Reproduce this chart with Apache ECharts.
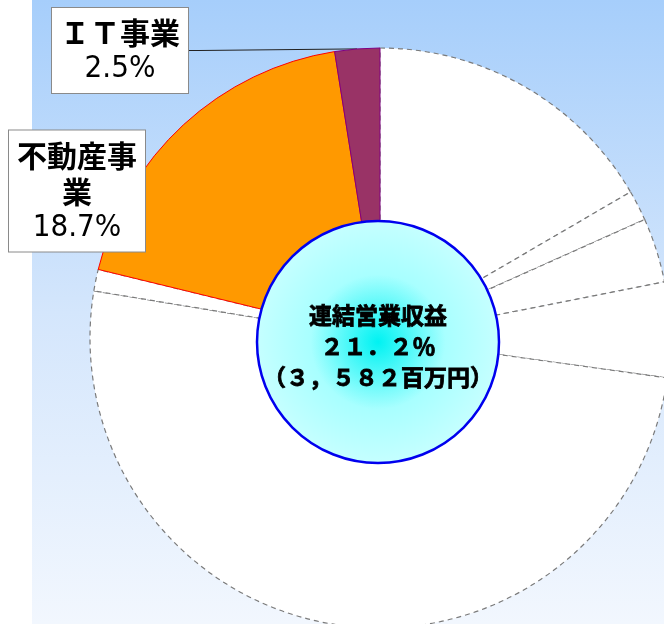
<!DOCTYPE html>
<html>
<head>
<meta charset="utf-8">
<script src="https://cdn.jsdelivr.net/npm/echarts@6/dist/echarts.min.js"></script>
<style>
  html, body { margin: 0; padding: 0; background: #ffffff; }
  #chart { width: 664px; height: 624px; }
</style>
</head>
<body>
<div id="chart"></div>
<script>
// ---- data ----
var segmentNames = ['その他1', 'その他2', 'その他3', 'その他4', 'その他5', 'その他6', '不動産事業', 'ＩＴ事業'];
var segmentValues = [16.6, 1.7, 3.6, 5.3, 50.4, 1.2, 18.7, 2.5];
var labelledSegments = ['不動産事業', 'ＩＴ事業'];
var centerTitle = '連結営業収益';
var centerShare = 21.2;        // %
var centerAmount = 3582;       // 百万円

// ---- helpers ----
function toFullWidth(s) {
  return String(s).replace(/[0-9.,]/g, function (c) {
    if (c === '.') return '．';
    if (c === ',') return '，';
    return String.fromCharCode(c.charCodeAt(0) + 0xFEE0);
  });
}
function withComma(n) { return String(n).replace(/\B(?=(\d{3})+(?!\d))/g, ','); }
function chunk(s, n) {
  var out = [];
  for (var i = 0; i < s.length; i += n) out.push(s.slice(i, i + n));
  return out;
}

var sliceStyles = {
  '不動産事業': { color: '#ff9900', borderColor: '#ff0000', borderWidth: 1, borderType: 'solid' },
  'ＩＴ事業': { color: '#993366', borderColor: '#800080', borderWidth: 1, borderType: 'solid' }
};
var labelPos = {
  '不動産事業': [77, 191],
  'ＩＴ事業': [120, 50.5]
};

var pieData = segmentNames.map(function (n, i) {
  var labelled = labelledSegments.indexOf(n) >= 0;
  return {
    name: n,
    value: segmentValues[i],
    itemStyle: sliceStyles[n] || { color: '#ffffff', borderColor: '#7a7a7a', borderWidth: 1.2, borderType: [5, 4] },
    label: { show: labelled },
    labelLine: { show: n === 'ＩＴ事業' }
  };
});

var centerText = '{t|' + centerTitle + '}\n{s|' + toFullWidth(centerShare) + '％}\n{a|（' +
  toFullWidth(withComma(centerAmount)) + '百万円）}';
var centerFont = { fontFamily: 'Noto Sans CJK JP', fontWeight: 'bold', fontSize: 23, lineHeight: 31, color: '#000',
  textBorderColor: '#000', textBorderWidth: 0.8 };

var chart = echarts.init(document.getElementById('chart'), null, { renderer: 'canvas' });
var option = {
  animation: false,
  title: {
    text: centerText,
    left: 378,
    top: 300,
    textAlign: 'center',
    z: 20,
    padding: 0,
    itemGap: 0,
    textStyle: {
      fontFamily: 'Noto Sans CJK JP',
      fontWeight: 'bold',
      fontSize: 23,
      color: '#000',
      rich: { t: centerFont, s: centerFont, a: centerFont }
    }
  },
  graphic: [{
    type: 'rect',
    z: -10,
    shape: { x: 32, y: 0, width: 632, height: 624 },
    style: {
      fill: new echarts.graphic.LinearGradient(0, 0, 0, 1, [
        { offset: 0, color: '#a6cefb' },
        { offset: 0.5, color: '#d4e6fc' },
        { offset: 1, color: '#f2f7fe' }
      ])
    }
  }],
  series: [{
    type: 'pie',
    z: 2,
    center: [380, 338],
    radius: [0, 290],
    startAngle: 90,
    clockwise: true,
    avoidLabelOverlap: false,
    silent: true,
    data: pieData,
    label: {
      position: 'outside',
      formatter: function (p) {
        var lines = chunk(p.name, 4).map(function (l) { return '{n|' + l + '}'; });
        lines.push('{v|' + p.value + '%}');
        return lines.join('\n');
      },
      backgroundColor: '#ffffff',
      borderColor: '#8a8a8a',
      borderWidth: 1,
      padding: [7, 6, 6, 6],
      align: 'center',
      color: '#000',
      rich: {
        n: { fontFamily: 'Noto Sans CJK JP', fontWeight: 'bold', fontSize: 30, lineHeight: 36, color: '#000', align: 'center', width: 124 },
        v: { fontFamily: "'Liberation Sans Narrow', 'DejaVu Sans Condensed', 'Noto Sans CJK JP'", fontSize: 31, lineHeight: 36, color: '#000', align: 'center', width: 124 }
      }
    },
    labelLine: { lineStyle: { color: '#222', width: 1 }, length: 10, length2: 10 },
    labelLayout: function (p) {
      var pos = labelPos[segmentNames[p.dataIndex]];
      if (!pos) return {};
      return { x: pos[0], y: pos[1], align: 'center', verticalAlign: 'middle' };
    }
  }, {
    type: 'pie',
    z: 5,
    center: [378, 342],
    radius: [0, 121],
    silent: true,
    data: [{ name: centerTitle, value: centerShare }],
    itemStyle: {
      color: new echarts.graphic.RadialGradient(0.5, 0.5, 0.5, [
        { offset: 0, color: '#00f2f2' },
        { offset: 0.55, color: '#a8ffff' },
        { offset: 1, color: '#c6ffff' }
      ]),
      borderColor: '#0000ee',
      borderWidth: 2.5
    },
    label: { show: false },
    labelLine: { show: false }
  }]
};
chart.setOption(option);
</script>
</body>
</html>
